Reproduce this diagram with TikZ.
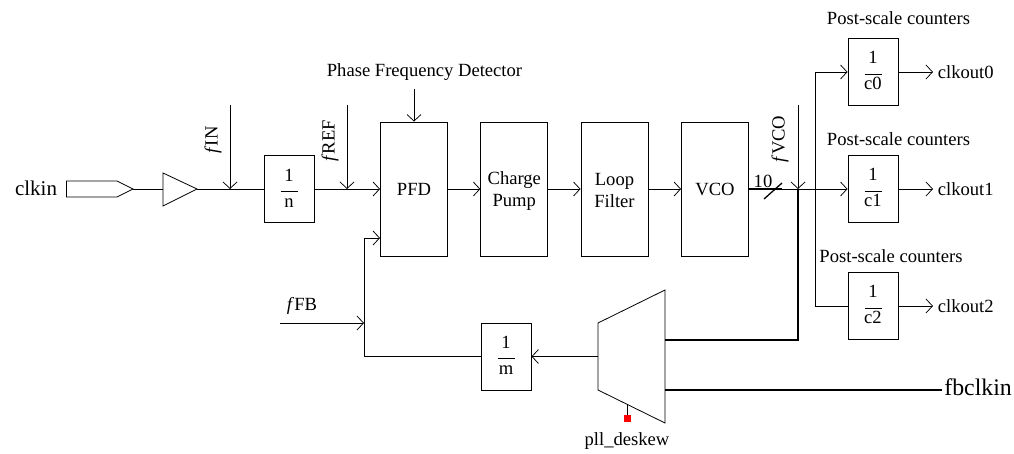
\documentclass[tikz,border=0pt]{standalone}
\usepackage{fontspec}
\setmainfont{Liberation Serif}
\usetikzlibrary{arrows.meta,calc}
\newcommand{\divby}[1]{$\displaystyle\frac{\raisebox{2.5pt}[12.6pt][0pt]{\makebox[17pt]{1}}}{\makebox[17pt]{#1}}$}
\newcommand{\nudge}{\rule{0pt}{16pt}}
\tikzset{
  >={Straight Barb[length=6.5pt,width=14pt,line width=0.75pt]},
  wire/.style={line width=0.8pt},
  bus/.style={line width=1.5pt},
  block/.style={draw,line width=0.9pt,minimum width=67pt,minimum height=134pt,inner sep=0pt,font=\fontsize{18.6}{22}\selectfont,align=center},
  divider/.style={draw,line width=0.9pt,minimum width=50pt,minimum height=67pt,inner sep=0pt,font=\fontsize{18.6}{22}\selectfont},
  lbl/.style={inner sep=0pt,font=\fontsize{18.6}{22}\selectfont}
}
\begin{document}
\begin{tikzpicture}[x=1pt,y=-1pt,wire]
\useasboundingbox (0,0) rectangle (1014,454);
% input pad and buffer
\node[lbl,font=\fontsize{21}{23}\selectfont] (clkin) at (36,188) {clkin};
\coordinate (pad) at (133,189);
\coordinate (bufin) at (163,189);
\coordinate (bufout) at (197,189);
\draw (pad) -- (117,197) -- (66.5,197) -- (66.5,181) -- (117,181) -- cycle;
\draw (bufin) -- (163,173) -- (bufout) -- (163,206) -- cycle;
% loop blocks
\node[divider] (n) at (289,189) {\divby{n}};
\node[block] (pfd) at (414,189) {PFD};
\node[block] (cp) at (514.3,189) {\nudge Charge\\Pump};
\node[block] (lf) at (614.5,189) {\nudge Loop\\Filter};
\node[block] (vco) at (715,189) {VCO};
\node[divider] (m) at (506,356.5) {\divby{m}};
% post-scale counters
\node[divider] (c0) at (873,72) {\divby{c0}};
\node[divider] (c1) at (873,189) {\divby{c1}};
\node[divider] (c2) at (873,306) {\divby{c2}};
\coordinate (tip0) at (933,72);
\coordinate (tip1) at (933,189);
\coordinate (tip2) at (933,306);
\node[lbl,anchor=west] (out0) at (937.5,72) {clkout0};
\node[lbl,anchor=west] (out1) at (937.5,189) {clkout1};
\node[lbl,anchor=west] (out2) at (937.5,306) {clkout2};
\node[lbl] (ps0) at (898.5,18) {Post-scale counters};
\node[lbl] (ps1) at (898.5,139) {Post-scale counters};
\node[lbl] (ps2) at (891,256) {Post-scale counters};
% probe labels
\node[lbl] (pfdlbl) at (424.5,72) {Phase Frequency Detector};
\node[lbl,rotate=90] (fin) at (213,140) {\textit{f}IN};
\node[lbl,rotate=90] (fref) at (330,141) {\textit{f}REF};
\node[lbl,rotate=90] (fvco) at (780,139) {\textit{f}VCO};
\node[lbl] (ffb) at (302,306) {\textit{f}FB};
\node[lbl] (ten) at (763,181) {10};
\node[lbl] (deskew) at (627,441) {pll\_deskew};
\coordinate (fbtip) at (942,390);
\node[lbl,anchor=west,font=\fontsize{23.8}{25}\selectfont] (fbclkin) at (944,387) {fbclkin};
% feedback mux
\coordinate (muxin) at (598,356.5);
\coordinate (muxa) at (665,340);
\coordinate (muxb) at (665,390);
\coordinate (sel) at (627.5,405);
\draw (598,323) -- (665,290) -- (665,423) -- (598,390) -- cycle;
\draw (sel) -- (627.5,415);
\node[fill=red,inner sep=0pt,minimum size=7pt] (selpad) at (627.5,418) {};
% coordinates
\coordinate (finj) at (230,189);
\coordinate (frefj) at (347,189);
\coordinate (fvcoj) at (798,189);
\coordinate (slash) at (782,189);
\coordinate (fbj) at (364,323);
\coordinate (fbin) at (364,238);
% wires
\draw (pad) -- (bufin);
\draw (bufout) -- (n);
\draw[->] (n) -- (pfd);
\draw[->] (pfd) -- (cp);
\draw[->] (cp) -- (lf);
\draw[->] (lf) -- (vco);
\draw[->] (vco) -- (c1);
\draw[line width=1.3pt] (vco.east) -- (slash);
\draw[line width=1.3pt] (764,199) -- (782,183);
\draw[->] (230,105) -- (finj);
\draw[->] (347,105) -- (frefj);
\draw[->] (798,105) -- (fvcoj);
\draw[->] (414,89) -- (pfd.north);
\draw[->] (815,72) -- (c0);
\draw (815,72) -- (815,306) -- (c2);
\draw[->] (c0) -- (tip0);
\draw[->] (c1) -- (tip1);
\draw[->] (c2) -- (tip2);
\draw[->] (muxin) -- (m);
\draw (m) -- (364,356.5) -- (fbin);
\draw[->] (fbin) -- (fbin -| pfd.west);
\draw[->] (280,323) -- (fbj);
\draw[bus] (muxa) -- (798,340) -- (fvcoj);
\draw[bus] (muxb) -- (fbtip);
\end{tikzpicture}
\end{document}
